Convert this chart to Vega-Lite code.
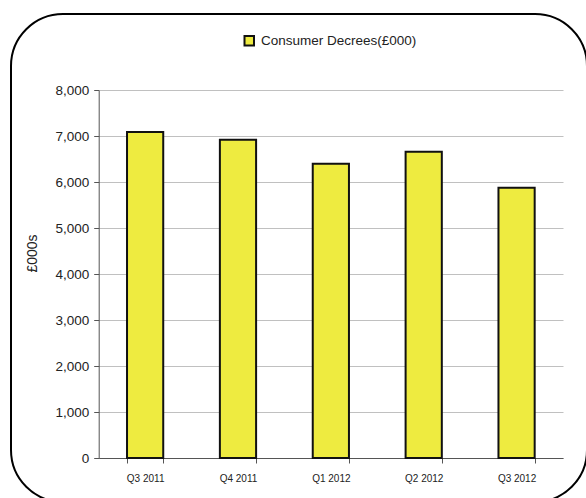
{
  "$schema": "https://vega.github.io/schema/vega-lite/v6.json",
  "width": 576,
  "height": 488,
  "autosize": {"type": "none"},
  "padding": {"left": 11, "top": 14, "right": -1, "bottom": -4},
  "background": "white",
  "config": {
    "view": {"stroke": "#000000", "strokeWidth": 2, "cornerRadius": 52, "fill": "white"},
    "font": "Liberation Sans"
  },
  "data": {
    "values": [
      {"quarter": "Q3 2011", "value": 7087, "series": "Consumer Decrees(£000)"},
      {"quarter": "Q4 2011", "value": 6920, "series": "Consumer Decrees(£000)"},
      {"quarter": "Q1 2012", "value": 6398, "series": "Consumer Decrees(£000)"},
      {"quarter": "Q2 2012", "value": 6659, "series": "Consumer Decrees(£000)"},
      {"quarter": "Q3 2012", "value": 5876, "series": "Consumer Decrees(£000)"}
    ]
  },
  "mark": {"type": "bar", "stroke": "#111111", "strokeWidth": 2},
  "encoding": {
    "x": {
      "field": "quarter",
      "type": "nominal",
      "sort": null,
      "scale": {"range": [87.7, 552], "paddingInner": 0.61, "paddingOuter": 0.305},
      "axis": {
        "title": null,
        "labelAngle": 0,
        "offset": -44,
        "tickBand": "extent",
        "tickSize": 5,
        "labelFontSize": 10,
        "labelPadding": 10,
        "domainColor": "#555555",
        "tickColor": "#555555",
        "labelColor": "#222222",
        "grid": false
      }
    },
    "y": {
      "field": "value",
      "type": "quantitative",
      "scale": {"domain": [0, 8000], "range": [444, 76], "nice": false},
      "axis": {
        "title": "£000s",
        "values": [0, 1000, 2000, 3000, 4000, 5000, 6000, 7000, 8000],
        "format": ",d",
        "offset": -87.7,
        "tickSize": 5,
        "labelFontSize": 13.5,
        "labelPadding": 5,
        "labelColor": "#222222",
        "titleFontSize": 14,
        "titleFontWeight": "normal",
        "titleColor": "#222222",
        "titlePadding": 15,
        "titleY": 239,
        "gridColor": "#c0c0c0",
        "domainColor": "#555555",
        "tickColor": "#555555"
      }
    },
    "color": {
      "field": "series",
      "type": "nominal",
      "scale": {"range": ["#EEEB40"]},
      "legend": {
        "title": null,
        "orient": "none",
        "legendX": 231.5,
        "legendY": 20,
        "symbolType": "square",
        "symbolSize": 90,
        "symbolStrokeColor": "#111111",
        "symbolStrokeWidth": 2,
        "labelFontSize": 13.5,
        "labelOffset": 5,
        "labelColor": "#222222",
        "padding": 0
      }
    }
  }
}
